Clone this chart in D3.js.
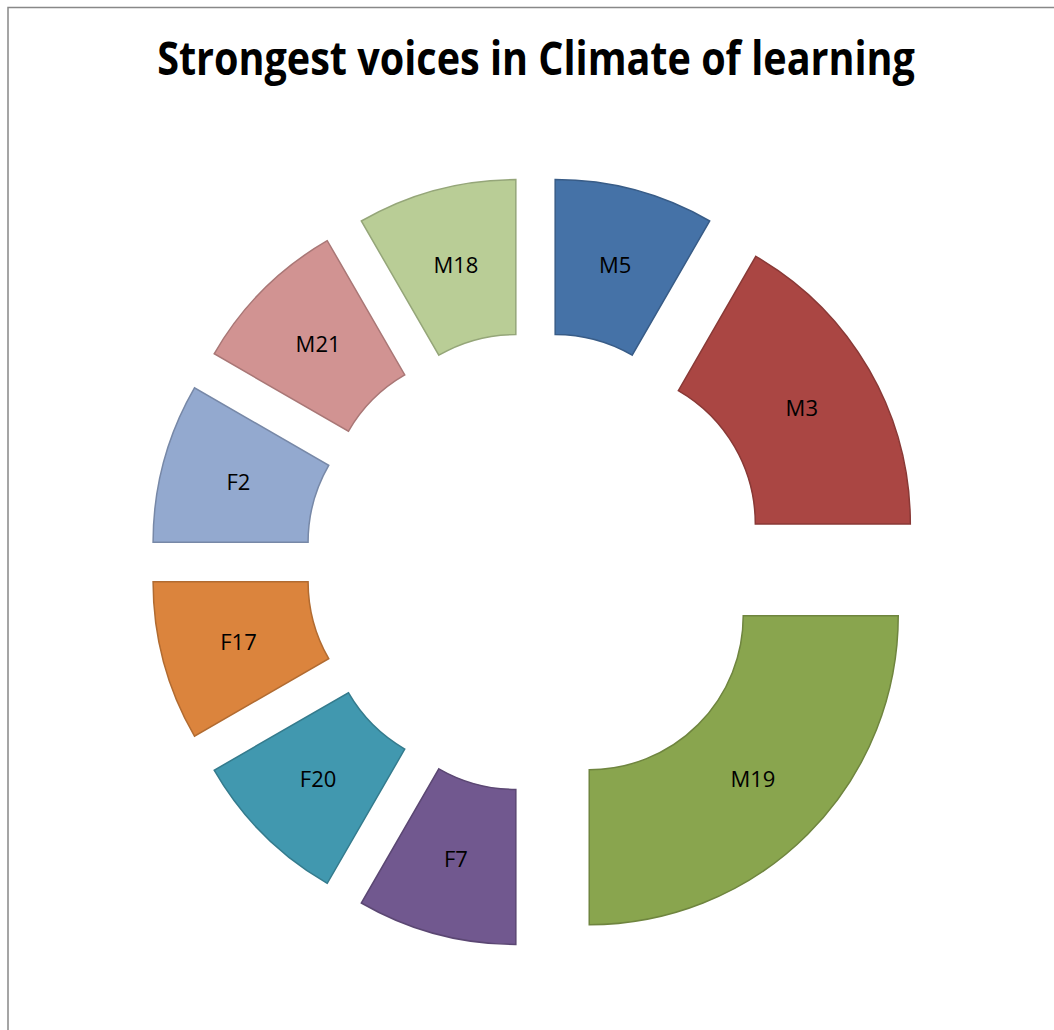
<!DOCTYPE html>
<html>
<head>
<meta charset="utf-8">
<script src="https://cdn.jsdelivr.net/npm/d3@7"></script>
<style>
  html, body { margin: 0; padding: 0; background: #fff; }
  svg { display: block; }
</style>
</head>
<body>
<script>
const title = "Strongest voices in Climate of learning";
const categories = ["M5", "M3", "M19", "F7", "F20", "F17", "F2", "M21", "M18"];
const values = [1, 2, 3, 1, 1, 1, 1, 1, 1];
const fillColors = ["#4572A7", "#AA4643", "#89A54E", "#71588F", "#4198AF", "#DB843D", "#93A9CF", "#D19392", "#B9CD96"];

const W = 1054, H = 1030;
const cx = 535.5, cy = 562;
const outerR = 309, innerR = 154, explode = 76;

const svg = d3.select("body").append("svg").attr("width", W).attr("height", H);

// chart area border
svg.append("rect").attr("x", 8).attr("y", 7.5).attr("width", W + 20).attr("height", H + 20)
  .attr("fill", "#fff").attr("stroke", "#888").attr("stroke-width", 1.5);

// title, condensed horizontally to the reference width
const tg = svg.append("g");
const tt = tg.append("text").attr("x", 0).attr("y", 0).attr("text-anchor", "middle")
  .attr("font-family", "'Open Sans', sans-serif").attr("font-weight", "bold")
  .attr("font-size", 47).attr("fill", "#000")
  .text(title);
const natural = tt.node().getComputedTextLength();
const sx = Math.min(1, 758 / natural);
tg.attr("transform", `translate(536,75) scale(${sx},1)`);

const data = categories.map((c, i) => ({ name: c, value: values[i], color: fillColors[i] }));
const pie = d3.pie().sort(null).value(d => d.value).startAngle(0).endAngle(2 * Math.PI);
const arc = d3.arc().innerRadius(innerR).outerRadius(outerR);
const arcs = pie(data);

const g = svg.append("g").attr("transform", `translate(${cx},${cy})`);
const slice = g.selectAll("g.slice").data(arcs).join("g").attr("class", "slice")
  .attr("transform", d => {
    const a = (d.startAngle + d.endAngle) / 2;
    return `translate(${explode * Math.sin(a)},${-explode * Math.cos(a)})`;
  });

slice.append("path").attr("d", arc)
  .attr("fill", d => d.data.color)
  .attr("stroke", d => d3.color(d.data.color).darker(0.6))
  .attr("stroke-width", 1.5)
  .attr("stroke-linejoin", "miter");

slice.append("text")
  .attr("transform", d => `translate(${arc.centroid(d)})`)
  .attr("text-anchor", "middle").attr("dy", "0.36em")
  .attr("font-family", "'Open Sans', sans-serif").attr("font-size", 22).attr("fill", "#000")
  .text(d => d.data.name);
</script>
</body>
</html>
